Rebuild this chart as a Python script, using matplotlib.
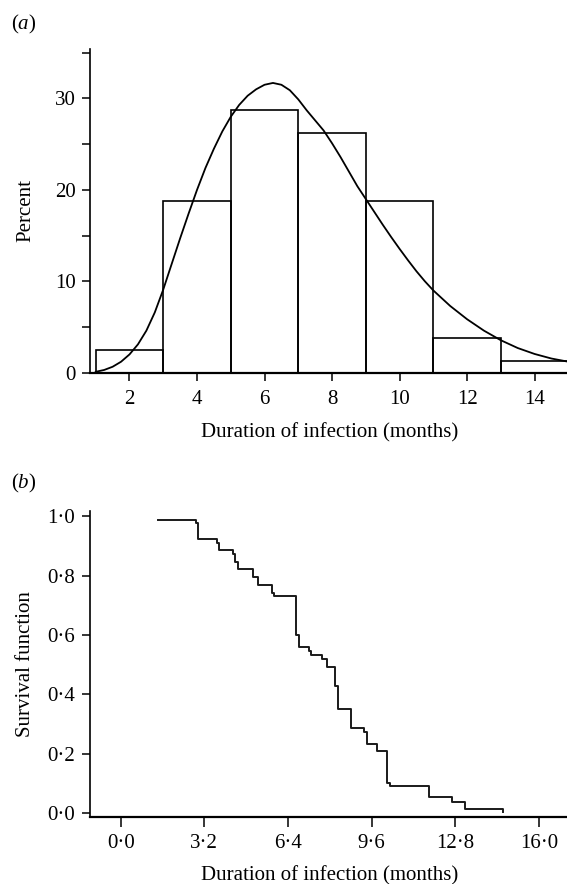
import matplotlib
matplotlib.use("Agg")
import matplotlib.pyplot as plt

plt.rcParams["font.family"] = ["Liberation Serif", "DejaVu Serif"]
plt.rcParams["mathtext.fontset"] = "custom"
plt.rcParams["mathtext.rm"] = "Liberation Serif"
plt.rcParams["mathtext.it"] = "Liberation Serif:italic"

# (a) histogram of durations, percent per 2-month bin
bin_left = [1, 3, 5, 7, 9, 11, 13]
bin_pct = [2.5, 18.75, 28.75, 26.25, 18.75, 3.75, 1.25]

# fitted density curve
curve_x = [1.0, 1.25, 1.5, 1.75, 2.0, 2.25, 2.5, 2.75, 3.0, 3.25, 3.5, 3.75,
           4.0, 4.25, 4.5, 4.75, 5.0, 5.25, 5.5, 5.75, 6.0, 6.25, 6.5, 6.75,
           7.0, 7.25, 7.5, 7.75, 8.0, 8.25, 8.5, 8.75, 9.0, 9.25, 9.5, 9.75,
           10.0, 10.25, 10.5, 10.75, 11.0, 11.5, 12.0, 12.5, 13.0, 13.5, 14.0,
           14.5, 15.0]
curve_y = [0.1, 0.3, 0.65, 1.2, 2.0, 3.1, 4.6, 6.6, 9.1, 11.9, 14.7, 17.4,
           20.0, 22.4, 24.5, 26.4, 28.0, 29.3, 30.3, 31.0, 31.5, 31.7, 31.5, 30.9,
           29.9, 28.7, 27.6, 26.5, 25.1, 23.6, 22.0, 20.4, 19.0, 17.6, 16.2, 14.85,
           13.55, 12.3, 11.1, 10.0, 9.0, 7.3, 5.85, 4.6, 3.55, 2.7, 2.05,
           1.55, 1.2]

# (b) Kaplan-Meier survival steps
km_t = [1.42, 2.88, 2.97, 3.70, 3.77, 4.28, 4.37, 4.48, 5.07, 5.26, 5.78, 5.88,
        6.72, 6.81, 7.20, 7.29, 7.70, 7.90, 8.22, 8.31, 8.80, 9.32, 9.41, 9.80,
        10.19, 10.29, 11.80, 12.68, 13.19, 14.62]
km_s = [0.987, 0.975, 0.923, 0.911, 0.886, 0.872, 0.846, 0.822, 0.796, 0.768,
        0.742, 0.730, 0.600, 0.558, 0.547, 0.534, 0.519, 0.494, 0.430, 0.351,
        0.286, 0.274, 0.233, 0.210, 0.104, 0.092, 0.054, 0.040, 0.014, 0.005]

a_xticks = [2, 4, 6, 8, 10, 12, 14]
a_yticks = [0, 10, 20, 30]
a_yminor = [5, 15, 25, 35]
b_xticks = [0.0, 3.2, 6.4, 9.6, 12.8, 16.0]
b_yticks = [0.0, 0.2, 0.4, 0.6, 0.8, 1.0]

W, H = 567, 884
fig = plt.figure(figsize=(W / 100, H / 100), dpi=100)

fs = 15

# panel a
ax1 = fig.add_axes([90 / W, 1 - 372.7 / H, 477 / W, (372.7 - 49.3) / H])
ax1.bar(bin_left, bin_pct, width=2, align="edge", fill=False,
        edgecolor="black", linewidth=1.2)
ax1.plot(curve_x, curve_y, color="black", linewidth=1.3)
ax1.set_xlim(0.83, 14.96)
ax1.set_ylim(0, 35.38)
ax1.set_xticks(a_xticks)
ax1.set_yticks(a_yticks)
ax1.set_yticks(a_yminor, minor=True)
ax1.tick_params(axis="x", length=5.5, width=1.1, pad=7, labelsize=fs)
ax1.tick_params(axis="y", which="both", length=6, width=1.1, pad=4, labelsize=fs)
ax1.set_ylabel("Percent", fontsize=fs)
ax1.yaxis.set_label_coords(-0.115, 0.5)

# panel b
ax2 = fig.add_axes([90 / W, 1 - 817 / H, 477 / W, (817 - 510.7) / H])
ax2.step(km_t, km_s, where="post", color="#1a1a1a", linewidth=1.4)
ax2.set_xlim(-1.175, 17.08)
ax2.set_ylim(-0.012, 1.018)
ax2.set_xticks(b_xticks)
ax2.set_xticklabels([f"{v:.1f}".replace(".", "\u00b7") for v in b_xticks])
ax2.set_yticks(b_yticks)
ax2.set_yticklabels([f"{v:.1f}".replace(".", "\u00b7") for v in b_yticks])
ax2.tick_params(axis="x", length=7, width=1.1, pad=5, labelsize=fs)
ax2.tick_params(axis="y", length=6, width=1.1, pad=5, labelsize=fs)
ax2.set_ylabel("Survival function", fontsize=fs)
ax2.yaxis.set_label_coords(-0.115, 0.5)

for ax in (ax1, ax2):
    ax.spines["top"].set_visible(False)
    ax.spines["right"].set_visible(False)
    ax.spines["left"].set_linewidth(1.2)
    ax.spines["bottom"].set_linewidth(1.6)

fig.text(330 / W, 1 - 433 / H, "Duration of infection (months)",
         ha="center", va="center", fontsize=fs)
fig.text(330 / W, 1 - 876 / H, "Duration of infection (months)",
         ha="center", va="center", fontsize=fs)

fig.text(11 / W, 1 - 24 / H, "($a$)", ha="left", va="center", fontsize=fs)
fig.text(11 / W, 1 - 483 / H, "($b$)", ha="left", va="center", fontsize=fs)

fig.savefig("out.png", dpi=100)
